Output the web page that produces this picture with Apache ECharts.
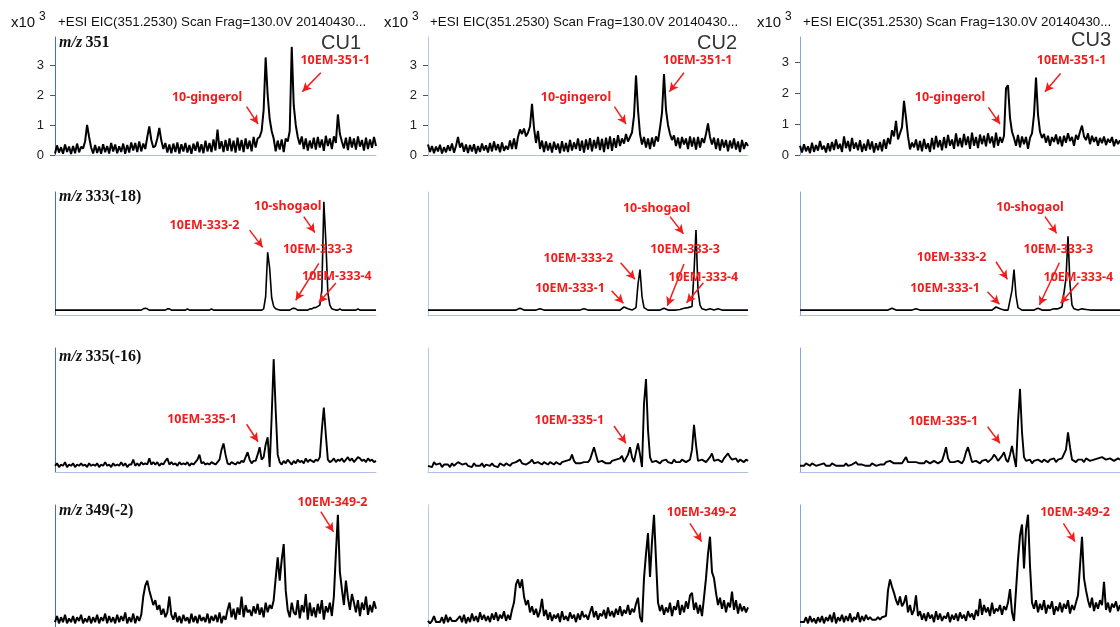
<!DOCTYPE html>
<html><head><meta charset="utf-8">
<script src="https://cdn.jsdelivr.net/npm/echarts@6/dist/echarts.min.js"></script>
<style>html,body{margin:0;padding:0;background:#fff}#c{width:1120px;height:627px}</style>
</head><body><div id="c"></div>
<script>
// ---------------- DATA ----------------
const sampleNames = ['CU1', 'CU2', 'CU3'];
const rowLabelPrefix = 'm/z';
const rowLabelIons = ['351', '333(-18)', '335(-16)', '349(-2)'];
const headerText = '+ESI EIC(351.2530) Scan Frag=130.0V 20140430...';
const yTickValues = [0, 100, 200, 300];     // intensity in units of 10 counts
const yTickLabels = ['0', '1', '2', '3'];   // x10^3

// row 1 : m/z 351 (intensity, 100 = 1 x10^3)
const r1c1 = [5,32,8,26,4,35,10,28,3,30,
 6,38,9,27,22,45,100,60,25,5,
 33,7,28,4,36,9,30,5,40,12,
 35,6,29,10,38,4,33,8,42,15,
 40,10,45,12,38,20,60,95,50,25,
 30,55,90,48,20,40,8,35,6,38,
 10,42,5,36,12,40,8,33,4,38,
 14,44,9,36,6,48,12,40,10,52,
 15,85,20,46,10,50,14,55,12,48,
 8,58,15,50,10,55,20,48,12,60,
 25,55,60,80,150,325,200,120,80,55,
 12,48,18,52,10,55,45,80,360,165,
 100,60,35,62,20,55,15,48,22,58,
 18,60,25,52,14,64,30,55,20,62,
 40,135,70,45,22,58,16,60,25,55,
 18,62,28,50,15,58,20,52,24,60,
 30];
const r1c2 = [35,10,30,6,28,12,34,5,26,9,
 32,14,38,8,30,60,25,40,11,35,
 7,33,12,36,5,30,10,38,15,32,
 8,40,12,45,16,36,9,42,14,30,
 18,48,20,55,20,60,85,70,88,62,
 75,95,170,90,40,80,20,48,10,45,
 15,40,8,44,18,38,6,46,12,40,
 10,50,15,42,20,55,14,48,8,52,
 18,56,12,50,22,60,16,54,10,58,
 20,62,14,56,24,66,30,55,38,70,
 45,60,75,130,265,150,70,35,60,25,
 55,20,58,28,62,45,90,140,270,150,
 100,70,50,65,30,58,22,60,35,55,
 20,62,28,58,18,60,25,56,40,70,
 105,60,35,58,20,55,15,52,25,50,
 12,48,22,55,18,45,10,50,20,42,
 30];
const r1c3 = [30,8,35,12,28,6,40,10,32,14,
 45,18,30,8,38,12,42,16,50,20,
 36,10,60,22,45,12,55,20,40,15,
 48,10,36,14,50,18,44,8,38,15,
 42,12,50,20,55,35,80,60,110,50,
 45,90,175,120,60,18,40,25,50,15,
 45,12,52,20,38,10,55,18,62,25,
 48,15,58,22,65,30,50,20,70,28,
 55,25,68,32,60,20,72,30,58,22,
 66,35,62,28,70,38,60,24,72,30,
 58,40,62,215,225,120,75,55,30,65,
 25,60,35,58,20,55,70,130,250,130,
 75,55,68,40,62,30,58,42,66,35,
 60,28,62,40,70,45,58,30,65,50,
 75,95,60,48,70,35,62,42,58,30,
 55,38,60,32,52,40,58,28,50,35,
 48];

// row 2 : m/z 333 (relative %)
const r2c1 = [4,4,4,4,4,4,4,4,4,4,
 4,4,4,4,4,4,4,4,4,4,
 4,4,4,4,4,4,4,4,4,4,
 4,4,4,4,4,4,4,4,4,4,
 4,4,4,4,5,5.5,5,4,4,4,
 4,4,4,4,4,4,5,5,4,4,
 4,4,4,4,4,4,5,4,4,4,
 4,4,4,4,4,4,4,4,5,4,
 4,4,4,4,4,4,4,4,4,4,
 4,4,4,4,4,4,4,4,4,4,
 4,4,4,4,5,15,51,38,14,7,
 5,4.5,4,4,4,4,4,4,5,5.5,
 5,4,4,4,4,4,4,5,5,6,
 6,7,8,20,92,60,18,8,5,4.5,
 4,4,5,4,4,4,4,4,4,4,
 4,5,4,4,4,4,4,4,4,4,
 4];
const r2c2 = [4,4,4,4,4,4,4,4,4,4,
 4,4,4,4,4,4,4,4,4,4,
 4,4,4,4,4,4,4,4,4,4,
 4,4,4,4,4,4,4,4,4,4,
 4,4,4,4,4,5,5.5,5,4,4,
 4,4,4,4,4,4,5,5.5,4,4,
 4,4,4,4,4,4,4,4,4,4,
 4,4,4,4,4,4,4,5,5,4,
 4,4,4,4,4,4,4,4,4,4,
 4,4,4,4,4,4,4,5,6.5,6,
 5,4,4,4,6,25,37,15,6,4.5,
 4,4,4,4,4,4,4,5,5.5,5,
 4,4,4,4,4,4,4.5,5,5.5,6,
 6,5.5,7,35,69,20,8,5,4.5,4,
 4.5,5,4.5,4,4,5,5,4,4,4,
 4,4,4,4,4,4,4,4,4,4,
 4];
const r2c3 = [4,4,4,4,4,4,4,4,4,4,
 4,4,4,4,4,4,4,4,4,4,
 4,4,4,4,4,4,4,4,4,4,
 4,4,4,4,4,4,4,4,4,4,
 4,4,4,4,4,5,5.5,4.5,4,4,
 4,4,4,4,4,4,4,5,5,4,
 4,4,4,4,4,4,4,4,4,4,
 4,4,4,4,4,4,4,4,4,4,
 4,4,4,4,4,4,4,4,4,4,
 4,4,4,4,4,4,4,5,6.5,6,
 5,4,4,4,4,5,20,37,16,6,
 4.5,4,4,4,4,4,4,4,5,5.5,
 4.5,4,4,4,4,4,4,5,5.5,5,
 5.5,6.5,7,30,64,25,8,5,4.5,4,
 4,5,5.5,4.5,4,4,4,4,4,4,
 4,4,4,4,4,4,4,4,4,4,
 4];

// row 3 : m/z 335
const r3c1 = [5,7,4,6,5,8,4,6,5,7,
 4,6,5,7,5,6,4,7,5,6,
 5,7,4,6,5,8,5,6,4,7,
 5,6,5,8,5,7,4,6,6,10,
 5,7,5,8,6,7,6,11,6,8,
 6,8,5,7,6,9,11,6,8,6,
 7,5,8,6,7,6,8,5,7,6,
 8,10,14,7,8,6,7,6,8,7,
 6,8,10,18,23,14,7,6,8,7,
 6,8,7,9,8,12,16,10,7,9,
 9,14,20,10,12,22,28,4,45,91,
 50,14,8,6,9,7,10,8,6,9,
 7,10,8,9,7,11,8,10,9,8,
 10,9,12,34,52,30,10,8,9,11,
 8,10,9,11,8,10,12,9,11,8,
 10,12,11,9,10,8,11,9,10,8,
 9];
const r3c2 = [5,6,4,8,6,5,7,4,6,5,
 6,4,7,5,6,8,9,6,5,7,
 5,6,4,7,5,6,5,7,4,6,
 6,5,7,5,6,4,7,6,5,7,
 6,5,7,6,8,7,10,7,8,6,
 7,8,10,7,6,8,7,6,8,7,
 6,8,7,6,8,7,6,8,7,9,
 8,10,14,9,7,8,7,6,8,7,
 8,10,15,20,14,8,7,9,8,7,
 8,7,9,8,10,9,11,13,8,9,
 14,20,12,8,16,23,14,4,55,75,
 34,12,8,7,9,8,7,9,8,10,
 8,9,7,10,8,9,8,10,9,8,
 9,10,18,38,22,9,8,10,9,8,
 10,12,15,9,8,10,9,8,11,12,
 15,12,10,9,11,8,10,9,8,10,
 9];
const r3c3 = [5,6,5,7,6,5,7,6,5,6,
 6,5,7,5,6,5,7,6,5,6,
 5,6,5,7,5,6,6,7,8,6,
 5,6,7,5,6,5,7,6,5,6,
 6,7,6,8,7,9,8,7,8,7,
 8,7,8,12,8,7,8,7,8,9,
 7,8,7,9,8,7,8,9,8,7,
 8,9,14,20,11,8,7,8,7,9,
 8,7,10,16,20,14,8,7,9,8,
 7,9,8,10,8,9,11,14,12,9,
 10,13,16,10,8,14,21,12,4,40,
 67,32,12,9,8,10,7,9,8,10,
 9,8,10,9,8,10,9,11,8,10,
 9,11,10,18,32,20,10,9,8,10,
 9,10,8,11,10,9,8,10,9,11,
 10,12,11,10,9,11,10,9,10,11,
 10];

// row 4 : m/z 349
const r4c1 = [4,9,3,8,4,10,3,7,4,9,
 3,8,5,10,3,7,4,9,3,8,
 4,10,3,8,5,11,3,9,4,8,
 3,10,4,9,5,12,3,8,4,11,
 3,9,5,10,25,34,38,30,24,18,
 22,14,18,10,15,8,12,25,10,6,
 12,4,9,3,10,5,8,3,11,4,
 9,3,10,5,8,4,11,3,9,5,
 10,4,12,3,9,6,14,20,8,15,
 6,16,10,25,8,18,12,14,9,17,
 11,19,10,16,8,20,12,18,15,22,
 40,57,38,55,68,30,14,8,20,12,
 10,22,7,18,12,27,6,20,9,16,
 8,19,11,22,6,17,12,20,9,25,
 60,92,45,31,18,38,24,14,27,20,
 12,22,9,20,14,25,10,18,12,21,
 15];
const r4c2 = [5,3,5,9,4,4,4,8,3,10,
 4,8,5,5,5,5,9,4,10,3,
 8,4,11,5,9,4,12,6,10,5,
 9,4,11,6,12,5,10,7,13,5,
 10,6,14,20,35,39,32,39,25,18,
 22,12,17,10,15,8,13,23,9,14,
 6,12,5,10,7,11,4,13,6,9,
 5,12,7,10,4,11,6,13,8,10,
 6,12,17,8,13,6,11,9,14,7,
 16,9,13,8,15,10,17,9,14,11,
 18,10,15,12,19,24,8,4,40,60,
 77,41,70,92,55,20,13,18,10,16,
 12,20,9,17,14,22,10,18,12,21,
 15,26,28,14,20,11,18,9,24,40,
 60,74,45,40,28,18,24,15,22,12,
 20,16,29,14,22,11,19,13,17,12,
 16];
const r4c3 = [4,4,4,8,3,9,4,7,3,8,
 4,9,3,8,5,10,4,12,3,8,
 5,10,4,9,5,11,4,8,6,12,
 4,9,5,10,6,8,6,7,6,8,
 6,8,7,9,30,39,33,28,22,18,
 25,17,20,26,12,18,10,14,26,9,
 13,6,11,5,12,7,10,4,13,6,
 11,5,9,7,12,4,10,6,11,5,
 12,7,10,5,13,8,11,6,14,9,
 23,10,18,12,16,9,20,11,15,13,
 18,10,17,14,20,31,12,5,30,55,
 75,84,48,80,92,50,20,15,22,12,
 19,14,22,11,18,15,21,10,17,13,
 20,12,19,15,22,11,18,14,20,26,
 50,74,40,30,22,16,24,13,20,15,
 22,18,37,14,20,12,19,16,21,13,
 18];

const traces = [r1c1, r1c2, r1c3, r2c1, r2c2, r2c3, r3c1, r3c2, r3c3, r4c1, r4c2, r4c3];

// annotation texts per panel
const noteTexts = [
  ['10-gingerol', '10EM-351-1'], ['10-gingerol', '10EM-351-1'], ['10-gingerol', '10EM-351-1'],
  ['10EM-333-2', '10-shogaol', '10EM-333-3', '10EM-333-4'],
  ['10-shogaol', '10EM-333-2', '10EM-333-3', '10EM-333-4', '10EM-333-1'],
  ['10-shogaol', '10EM-333-2', '10EM-333-3', '10EM-333-4', '10EM-333-1'],
  ['10EM-335-1'], ['10EM-335-1'], ['10EM-335-1'],
  ['10EM-349-2'], ['10EM-349-2'], ['10EM-349-2']
];

// ---------------- LAYOUT (data-space positions of annotation labels / arrows) ----------------
const notePlaces = [
  [[[75.8,191],[95.5,161],[101.2,103]], [[139.7,314],[132.5,274],[123.3,211]]],
  [[[74,191],[93.2,161],[99,103]], [[134.8,314],[128,274],[120.7,211]]],
  [[[75,185],[94.2,154],[100,100]], [[135.8,304],[130.3,263],[122.5,204]]],
  [[[74.5,73],[97,69],[103.5,55]], [[116,88],[124,80],[129.5,67]], [[131,53],[131.5,42],[120,12]], [[140.5,31],[140,26],[131.5,10]]],
  [[[114.3,87],[121,80],[127.7,66]], [[75.2,46],[96.3,42.5],[103.5,29]], [[128.5,53],[128,41.5],[119.7,7.5]], [[137.7,30.6],[137.7,26.3],[129.3,10]], [[71,21.7],[91.8,19.8],[97.7,9.5]]],
  [[[115,87.2],[122.5,80],[128.3,66.4]], [[75.8,47],[98,43.3],[103.7,29]], [[129.2,53.7],[129.7,42.5],[119.7,8.1]], [[139.2,30.6],[139.2,26.3],[130.3,9.5]], [[72.5,21.7],[93.7,18.9],[99.7,8.7]]],
  [[[73.3,42.5],[95.5,38.5],[101.2,24.4]]],
  [[[70.7,41.4],[93,37.1],[99,23.1]]],
  [[[71.7,40.6],[93.8,36.5],[100,23.1]]],
  [[[138.3,100],[132.5,94.5],[138.8,78]]],
  [[[136.8,94],[131,85],[136.8,70]]],
  [[[137.5,93.7],[131.7,85],[137.5,70]]]
];
const noteLabelLift = [0, 0, 0, 0, 0, 0, 0, 0, 0, -2.5, 0, 0];

const colLeft = [55, 428, 800], colWidth = [321, 320, 320];
const rowTop = [37, 192, 348, 505], rowHeight = [118, 123, 124, 122];
const row1Max = [393, 393, 381];
const rowLineWidth = [2, 1.6, 1.9, 2];
const yAxisColors = ['#3f6fd0', '#b9c9ea', '#86a4e0'];
const xAxisColor = '#aebfe6';
const red = '#f21c1c';
const sans = 'Liberation Sans, Arial, sans-serif';

const grid = [], xAxis = [], yAxis = [], series = [];
traces.forEach((vals, k) => {
  const row = Math.floor(k / 3), col = k % 3;
  grid.push({ left: colLeft[col], top: rowTop[row], width: colWidth[col], height: rowHeight[row] });
  xAxis.push({
    gridIndex: k, type: 'value', min: 0, max: vals.length - 1,
    axisLine: { show: true, lineStyle: { color: xAxisColor, width: 1 } },
    axisTick: { show: false }, axisLabel: { show: false }, splitLine: { show: false }
  });
  const first = row === 0;
  yAxis.push({
    gridIndex: k, type: 'value', min: 0, max: first ? row1Max[col] : 100,
    axisLine: { show: true, lineStyle: { color: yAxisColors[col], width: 1 } },
    axisTick: { show: first, customValues: yTickValues, length: 5, lineStyle: { color: '#555' } },
    axisLabel: {
      show: first, customValues: yTickValues, margin: 11, fontSize: 13, color: '#222', fontFamily: sans,
      formatter: v => { const j = yTickValues.indexOf(v); return j >= 0 ? yTickLabels[j] : ''; }
    },
    splitLine: { show: false }
  });
  const texts = noteTexts[k], places = notePlaces[k];
  series.push({
    type: 'line', xAxisIndex: k, yAxisIndex: k,
    data: vals.map((v, i) => [i, v]),
    showSymbol: false, symbol: 'none', clip: false, silent: true,
    lineStyle: { color: '#000', width: rowLineWidth[row] },
    markPoint: {
      symbol: 'circle', symbolSize: 1, silent: true,
      itemStyle: { color: 'rgba(0,0,0,0)' },
      label: { show: true, position: 'inside', offset: [0, noteLabelLift[k]], formatter: '{b}', color: red, fontWeight: 'bold', fontSize: 12.5, fontFamily: 'Noto Sans, Open Sans, sans-serif' },
      data: texts.map((t, j) => ({ name: t, coord: places[j][0] }))
    },
    markLine: {
      silent: true, symbol: ['none', 'arrow'], symbolSize: [7, 9],
      lineStyle: { color: red, width: 1.5, type: 'solid' },
      label: { show: false }, emphasis: { disabled: true },
      data: texts.map((t, j) => [{ coord: places[j][1] }, { coord: places[j][2] }])
    }
  });
});

const graphic = [];
const x10X = [11, 384, 757], supX = [39, 412, 785], headX = [58, 430, 803];
const cuRight = [361, 737, 1111], cuY = [44, 44, 41];
for (let c = 0; c < 3; c++) {
  graphic.push({ type: 'text', left: x10X[c], top: 15, style: { text: 'x10', font: '15px Liberation Sans', fill: '#111' } });
  graphic.push({ type: 'text', left: supX[c], top: 11, style: { text: '3', font: '12px Liberation Sans', fill: '#111' } });
  graphic.push({ type: 'text', left: headX[c], top: 16, style: { text: headerText, font: '13.3px Liberation Sans', fill: '#111' } });
  graphic.push({ type: 'text', right: 1120 - cuRight[c], top: cuY[c] - 11, style: { text: sampleNames[c], font: '20px Liberation Sans', fill: '#333' } });
}
const mzY = [43, 197, 357, 511];
rowLabelIons.forEach((ion, r) => {
  graphic.push({
    type: 'text', left: 59, top: mzY[r] - 8,
    style: {
      text: '{i|' + rowLabelPrefix + '} {b|' + ion + '}',
      rich: {
        i: { fontFamily: 'Liberation Serif', fontStyle: 'italic', fontWeight: 'bold', fontSize: 16, fill: '#111' },
        b: { fontFamily: 'Liberation Serif', fontWeight: 'bold', fontSize: 16, fill: '#111' }
      }
    }
  });
});

const chart = echarts.init(document.getElementById('c'), null, { renderer: 'canvas' });
chart.setOption({ animation: false, backgroundColor: '#fff', grid, xAxis, yAxis, series, graphic });
</script></body></html>
